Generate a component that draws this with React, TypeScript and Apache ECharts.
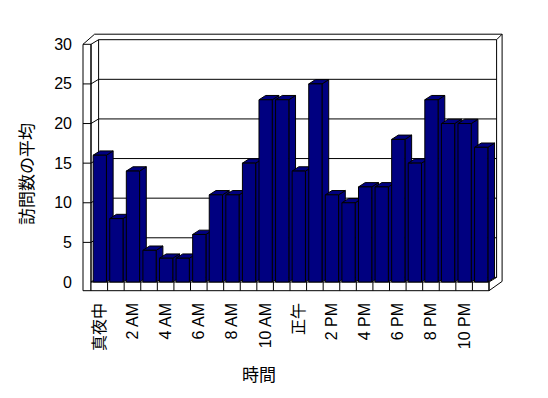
import React, { useEffect, useRef } from "react";
import * as echarts from "echarts";

const categories = [
  "真夜中", "1 AM", "2 AM", "3 AM", "4 AM", "5 AM", "6 AM", "7 AM", "8 AM", "9 AM", "10 AM", "11 AM",
  "正午", "1 PM", "2 PM", "3 PM", "4 PM", "5 PM", "6 PM", "7 PM", "8 PM", "9 PM", "10 PM", "11 PM",
];
const visits = [16, 8, 14, 4, 3, 3, 6, 11, 11, 15, 23, 23, 14, 25, 11, 10, 12, 12, 18, 15, 23, 20, 20, 17];
const yMin = 0;
const yMax = 30;
const yStep = 5;
const gridValues = [0, 5, 10, 15, 20, 25, 30];
const xTitle = "時間";
const yTitle = "訪問数の平均";

const FONT = "'Liberation Sans', 'Noto Sans CJK JP', sans-serif";
const NAVY = "#000080";

export default function App() {
  const ref = useRef<HTMLDivElement>(null);
  useEffect(() => {
    if (!ref.current) return;
    const chart = echarts.init(ref.current, undefined, { renderer: "svg" });
    const WALL = 8;
    const FLOOR = 8.7;
    const DX = 7.6;
    const DY = -4.6;
    const OUT = 5.5;
    const BDX = 6.7;
    const BDY = -4.3;
    const line = { stroke: "#000", lineWidth: 1, fill: "none" };
    const n = categories.length;

    const frameItem = (params: any, api: any) => {
      const slot = api.size([1, 0])[0];
      const c0 = api.coord([0, yMin]);
      const x0 = c0[0] - slot / 2;
      const x1 = x0 + slot * n;
      const y0 = c0[1];
      const yT = api.coord([0, yMax])[1];
      const children: any[] = [];
      // left wall front face
      children.push({ type: "rect", shape: { x: x0 - WALL, y: yT, width: WALL, height: y0 + FLOOR - yT }, style: { fill: "#fff", stroke: "#000", lineWidth: 1 } });
      // floor front face
      children.push({ type: "rect", shape: { x: x0, y: y0, width: x1 - x0, height: FLOOR }, style: { fill: "#fff", stroke: "#000", lineWidth: 1 } });
      for (let k = 1; k < n; k++) {
        const x = x0 + k * slot;
        children.push({ type: "line", shape: { x1: x, y1: y0, x2: x, y2: y0 + FLOOR }, style: line });
      }
      // outer outline
      children.push({
        type: "polyline",
        shape: {
          points: [
            [x0 - WALL, yT],
            [x0 + DX - 4, yT + DY - OUT],
            [x1 + DX + OUT, yT + DY - OUT],
            [x1 + DX + OUT, y0 + DY + 4],
            [x1, y0 + FLOOR],
          ],
        },
        style: line,
      });
      children.push({ type: "line", shape: { x1: x1, y1: y0, x2: x1, y2: y0 + FLOOR }, style: line });
      children.push({ type: "line", shape: { x1: x1, y1: y0, x2: x1 + DX, y2: y0 + DY }, style: line });
      children.push({ type: "line", shape: { x1: x0, y1: yT, x2: x0, y2: y0 }, style: line });
      children.push({ type: "line", shape: { x1: x0 + DX, y1: yT + DY, x2: x0 + DX, y2: y0 + DY }, style: line });
      children.push({ type: "line", shape: { x1: x1 + DX, y1: yT + DY, x2: x1 + DX, y2: y0 + DY }, style: line });
      children.push({ type: "line", shape: { x1: x1 + DX, y1: yT + DY, x2: x1 + DX + OUT, y2: yT + DY - OUT }, style: line });
      // gridlines
      gridValues.forEach((v) => {
        const y = api.coord([0, v])[1];
        const pts = v === yMin || v === yMax
          ? [[x0, y], [x0 + DX, y + DY], [x1 + DX, y + DY]]
          : [[x0 - WALL, y], [x0, y], [x0 + DX, y + DY], [x1 + DX, y + DY]];
        children.push({ type: "polyline", shape: { points: pts }, style: line });
      });
      return { type: "group", children };
    };

    const barItem = (params: any, api: any) => {
      const i = api.value(0);
      const v = api.value(1);
      const top = api.coord([i, v]);
      const base = api.coord([i, yMin]);
      const slot = api.size([1, 0])[0];
      const bw = slot * 0.8;
      const xl = top[0] - bw / 2 + 0.5;
      const xr = xl + bw;
      const yt = top[1];
      const yb = base[1];
      const st = { fill: NAVY, stroke: "#000", lineWidth: 1 };
      return {
        type: "group",
        children: [
          { type: "polygon", shape: { points: [[xr, yt], [xr + BDX, yt + BDY], [xr + BDX, yb + BDY], [xr, yb]] }, style: st },
          { type: "polygon", shape: { points: [[xl, yt], [xr, yt], [xr + BDX, yt + BDY], [xl + BDX, yt + BDY]] }, style: st },
          { type: "rect", shape: { x: xl, y: yt, width: bw, height: yb - yt }, style: st },
        ],
      };
    };

    chart.setOption({
      animation: false,
      backgroundColor: "#fff",
      textStyle: { fontFamily: FONT },
      grid: { left: 91, right: 59, top: 44.3, bottom: 116 },
      xAxis: {
        type: "category",
        data: categories,
        axisLine: { show: false },
        axisTick: { show: false },
        splitLine: { show: false },
        axisLabel: { interval: 1, rotate: 90, margin: 21, fontSize: 16, color: "#000", fontFamily: FONT },
      },
      yAxis: {
        type: "value",
        min: yMin,
        max: yMax,
        interval: yStep,
        axisLine: { show: false },
        axisTick: { show: false },
        splitLine: { show: false },
        axisLabel: { margin: 19, fontSize: 16, color: "#000", fontFamily: FONT },
      },
      graphic: [
        { type: "text", x: 27.5, y: 174, rotation: Math.PI / 2, style: { text: yTitle, align: "center", verticalAlign: "middle", fontSize: 17, fill: "#000", fontFamily: FONT } },
        { type: "text", x: 259, y: 375.5, style: { text: xTitle, align: "center", verticalAlign: "middle", fontSize: 17, fill: "#000", fontFamily: FONT } },
      ],
      series: [
        { type: "custom", name: "frame", data: [[0, 0]], renderItem: frameItem, clip: false, silent: true, z: 1 },
        { type: "custom", name: "訪問数", data: visits.map((v, i) => [i, v]), encode: { x: 0, y: 1 }, renderItem: barItem, clip: false, z: 2 },
      ],
    });
    return () => chart.dispose();
  }, []);
  return <div ref={ref} style={{ position: "fixed", left: 0, top: 0, width: 548, height: 398 }} />;
}
